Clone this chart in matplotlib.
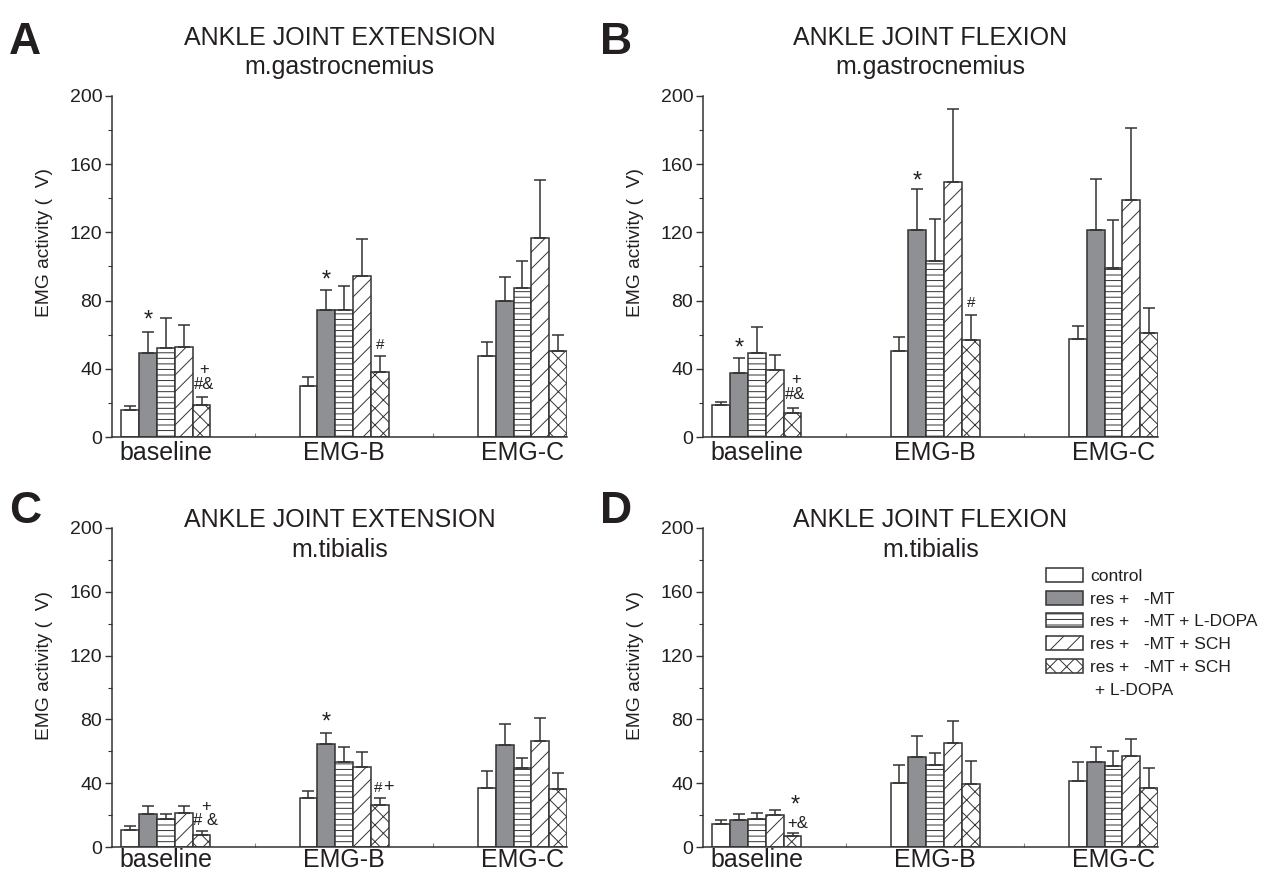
"""EMG activity of ankle joint muscles: four-panel grouped bar chart."""

import numpy as np
import matplotlib.pyplot as plt
from matplotlib.patches import Patch
from matplotlib.ticker import MultipleLocator, FixedLocator

plt.rcParams['font.family'] = ['Liberation Sans', 'DejaVu Sans']
plt.rcParams['hatch.linewidth'] = 0.7

INK = '#231f20'
EDGE = '#333333'
LEG_SIZE = 12.5

groups = ["baseline", "EMG-B", "EMG-C"]
series = ["control", "res +   -MT", "res +   -MT + L-DOPA",
          "res +   -MT + SCH", "res +   -MT + SCH"]

# rows = series, cols = groups (baseline, EMG-B, EMG-C)
ext_gastro_mean = [[15.6, 29.7, 47.7], [49.2, 74.6, 79.9], [52.1, 74.2, 87.3],
                   [52.7, 94.5, 117.0], [18.9, 37.9, 50.6]]
ext_gastro_sem = [[2.4, 5.3, 8.2], [12.5, 11.7, 14.2], [17.6, 14.3, 16.2],
                  [13.1, 21.9, 34.0], [4.3, 9.4, 9.2]]

flex_gastro_mean = [[18.6, 50.2, 57.2], [37.5, 121.5, 121.7], [49.2, 103.3, 99.4],
                    [39.5, 149.4, 139.0], [13.9, 56.8, 61.1]]
flex_gastro_sem = [[1.7, 8.2, 8.0], [9.0, 23.8, 29.5], [15.1, 24.8, 27.6],
                   [8.5, 42.8, 42.4], [3.1, 14.7, 14.5]]

ext_tib_mean = [[10.9, 31.0, 37.3], [20.5, 64.5, 63.9], [17.4, 53.4, 49.8],
                [21.4, 50.3, 66.4], [7.7, 26.4, 36.2]]
ext_tib_sem = [[2.1, 4.2, 10.4], [5.0, 6.7, 13.2], [3.5, 9.0, 6.3],
               [4.1, 9.0, 14.6], [2.1, 4.4, 9.9]]

flex_tib_mean = [[14.2, 40.4, 41.5], [16.8, 56.5, 53.0], [17.8, 51.7, 50.9],
                 [20.3, 64.9, 57.2], [6.9, 39.8, 37.1]]
flex_tib_sem = [[2.6, 11.3, 11.5], [3.7, 13.0, 10.0], [3.6, 7.3, 9.4],
                [2.9, 14.3, 10.6], [1.9, 14.0, 12.5]]

panels = [
    ("A", "ANKLE JOINT EXTENSION", "m.gastrocnemius", ext_gastro_mean, ext_gastro_sem),
    ("B", "ANKLE JOINT FLEXION", "m.gastrocnemius", flex_gastro_mean, flex_gastro_sem),
    ("C", "ANKLE JOINT EXTENSION", "m.tibialis", ext_tib_mean, ext_tib_sem),
    ("D", "ANKLE JOINT FLEXION", "m.tibialis", flex_tib_mean, flex_tib_sem),
]

# significance marks: (panel, group, series, text, fontsize, dx px, dy px above cap)
marks = [
    (0, 0, 1, "*", 17, 0, 5), (0, 0, 4, "#&", 12, 3, 8), (0, 0, 4, "+", 12, 3, 23),
    (0, 1, 1, "*", 17, 0, 3), (0, 1, 4, "#", 11, 0, 7),
    (1, 0, 1, "*", 17, 0, 3), (1, 0, 4, "#&", 12, 3, 9), (1, 0, 4, "+", 12, 4, 24),
    (1, 1, 1, "*", 17, 0, 2), (1, 1, 4, "#", 11, 0, 8),
    (2, 0, 4, "# &", 12, 4, 6), (2, 0, 4, "+", 12, 5, 20),
    (2, 1, 1, "*", 17, 0, 5), (2, 1, 4, "#", 11, -2, 6), (2, 1, 4, "+", 13, 9, 6),
    (3, 0, 4, "*", 17, 3, 21), (3, 0, 4, "+&", 12, 5, 5),
]

fills = ['white', '#8f9093', 'white', 'white', 'white']
hatches = [None, None, '---', '//', 'xx']

W, H = 1265, 872
fig = plt.figure(figsize=(W / 100, H / 100), dpi=100)

# axes boxes in pixels: left, top, right, bottom
boxes = [(112, 96, 567, 437), (703, 96, 1158, 437),
         (112, 528, 567, 847), (703, 528, 1158, 847)]

x = np.arange(len(groups))
bw = 0.1
offsets = (np.arange(len(series)) - 2) * bw
axes = []
for i, (letter, title, muscle, mean, sem) in enumerate(panels):
    l, t, r, b = boxes[i]
    ax = fig.add_axes([l / W, 1 - b / H, (r - l) / W, (b - t) / H])
    axes.append(ax)
    mean = np.array(mean)
    sem = np.array(sem)
    for s in range(len(series)):
        ax.bar(x + offsets[s], mean[s], bw, color=fills[s], edgecolor=EDGE,
               linewidth=1.1, hatch=hatches[s], zorder=2)
        ax.errorbar(x + offsets[s], mean[s], yerr=[np.zeros(3), sem[s]], fmt='none',
                    ecolor=EDGE, elinewidth=1.1, capsize=4.3, capthick=1.1, zorder=3)
    ax.set_xlim(-0.302, 2.25)
    ax.set_ylim(0, 200)
    for side in ('top', 'right'):
        ax.spines[side].set_visible(False)
    for side in ('left', 'bottom'):
        ax.spines[side].set_color(EDGE)
        ax.spines[side].set_linewidth(1.1)
    ax.yaxis.set_major_locator(MultipleLocator(40))
    ax.yaxis.set_minor_locator(MultipleLocator(20))
    ax.set_xticks(x)
    ax.set_xticklabels(groups, fontsize=18, color=INK)
    ax.xaxis.set_minor_locator(FixedLocator([0.5, 1.5]))
    ax.tick_params(axis='y', which='major', labelsize=14, labelcolor=INK,
                   length=5, width=1.0, color=EDGE, pad=2)
    ax.tick_params(axis='y', which='minor', length=3, width=0.8, color=EDGE)
    ax.tick_params(axis='x', which='both', direction='in', length=3, width=0.8,
                   color='#888888', pad=3 if i < 2 else 1)
    ax.set_ylabel("EMG activity (  V)", fontsize=13.8, color=INK)
    ax.yaxis.set_label_coords(-0.13, 0.57)

    cx = (l + r) / 2 / W
    if i < 2:
        ty, sy, ly = 45, 74, 54
    else:
        ty, sy, ly = 527, 557, 523
    fig.text(cx, 1 - ty / H, title, ha='center', va='baseline', fontsize=18, color=INK)
    fig.text(cx, 1 - sy / H, muscle, ha='center', va='baseline', fontsize=18, color=INK)
    fig.text((l - 103) / W, 1 - ly / H, letter, ha='left', va='baseline', fontsize=32,
             fontweight='bold', color=INK)

for p, g, s, txt, fs, dx, dy in marks:
    ax = axes[p]
    top = panels[p][3][s][g] + panels[p][4][s][g]
    ax.annotate(txt, (x[g] + offsets[s], top), xytext=(dx * 0.72, dy * 0.72),
                textcoords='offset points', ha='center', va='baseline',
                fontsize=fs, color=INK, zorder=4)

handles = [Patch(facecolor=fills[s], edgecolor=EDGE, linewidth=1.1, hatch=hatches[s])
           for s in range(len(series))]
handles.append(Patch(facecolor='none', edgecolor='none'))
labels = series + [" + L-DOPA"]
fs_px = LEG_SIZE * 100 / 72
leg = axes[3].legend(handles, labels, loc='upper left',
                     bbox_to_anchor=(1046 / W, 1 - 568 / H),
                     bbox_transform=fig.transFigure, frameon=False,
                     borderpad=0, borderaxespad=0, handlelength=37 / fs_px,
                     handleheight=15 / fs_px, handletextpad=7 / fs_px,
                     labelspacing=6.7 / fs_px, fontsize=LEG_SIZE)
for t in leg.get_texts():
    t.set_color(INK)

fig.savefig("out.png", dpi=100)
